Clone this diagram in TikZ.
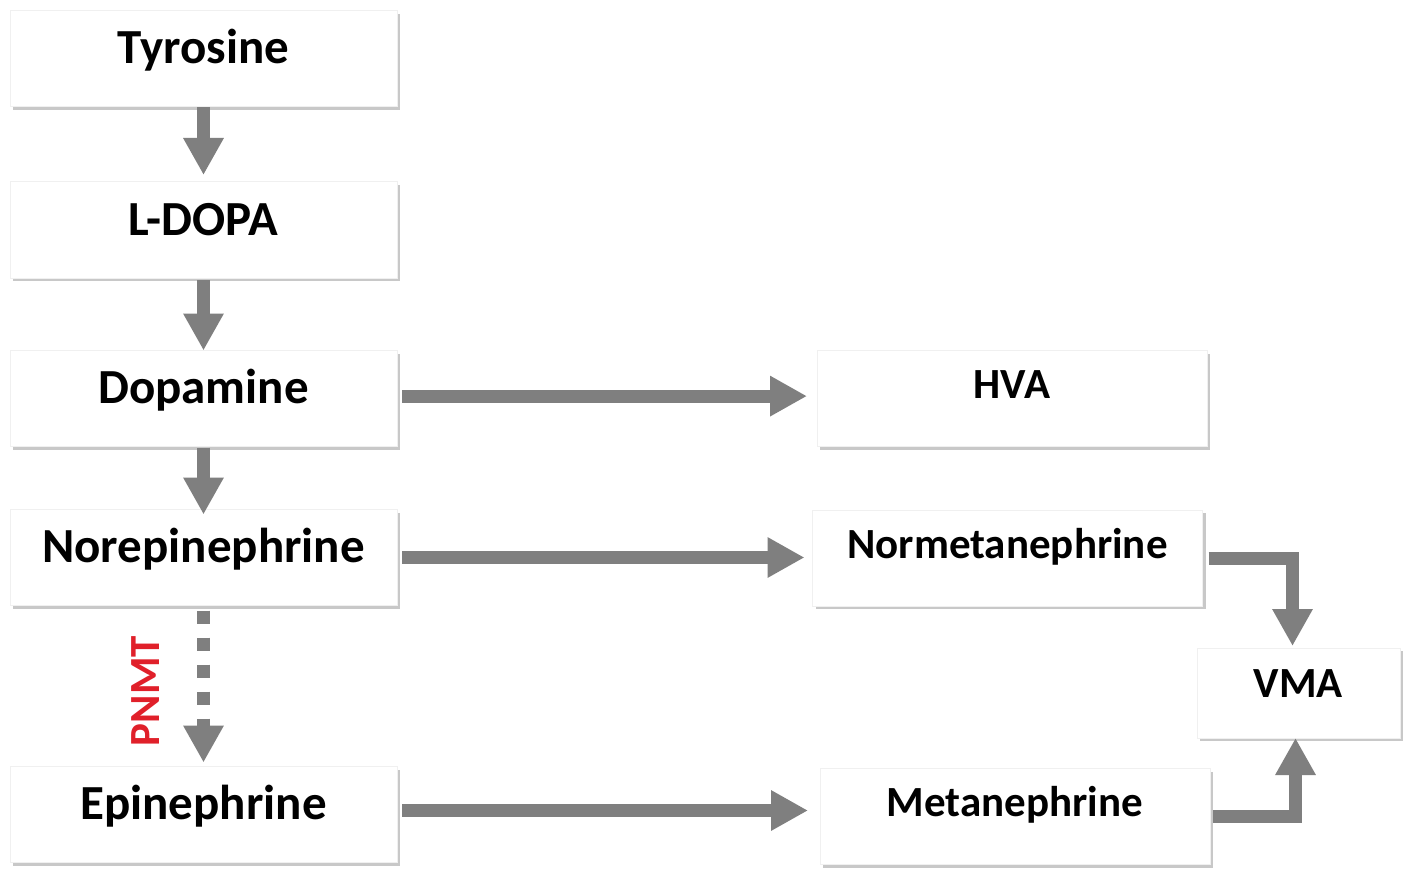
\documentclass[tikz,border=0pt]{standalone}
\usepackage{fontspec}
\setmainfont{Carlito}
\usetikzlibrary{arrows.meta,shadows}
\definecolor{arrgray}{HTML}{7F7F7F}
\definecolor{pnmtred}{HTML}{E0202A}
\tikzset{
  box/.style={rectangle, fill=white, draw=black!6, line width=0.5pt, inner sep=0pt, outer sep=0pt,
    drop shadow={shadow xshift=1.6pt, shadow yshift=-1.6pt, fill=black!30, opacity=0.7},
    font=\bfseries},
  leftbox/.style={box, minimum width=193.5pt, minimum height=48pt, text height=12pt, text depth=7pt, font=\fontsize{24.5}{28}\selectfont\bfseries},
  rightbox/.style={box, minimum width=195pt, minimum height=48pt, text height=10pt, text depth=10pt, font=\fontsize{21.5}{26}\selectfont\bfseries},
  vmabox/.style={box, minimum width=101.5pt, minimum height=45pt, text height=11pt, text depth=7pt, font=\fontsize{21.5}{26}\selectfont\bfseries},
  arr/.style={draw=arrgray, line width=6.5pt, -{Triangle[width=19pt,length=18.5pt]}, arrgray},
  dasharr/.style={arr, dash pattern=on 6.5pt off 7pt},
}
\begin{document}
\begin{tikzpicture}[x=0.5pt,y=-0.5pt]
\useasboundingbox (0,0) rectangle (1417,882);
\fill[white] (0,0) rectangle (1417,882);
% left column
\node[leftbox] (tyr)    at (203.5,58.5)  {Tyrosine};
\node[leftbox] (ldopa)  at (203.5,230)   {L-DOPA};
\node[leftbox] (dopa)   at (203.5,398.5) {Dopamine};
\node[leftbox] (norepi) at (203.5,557.5) {Norepinephrine};
\node[leftbox] (epi)    at (203.5,814.5) {Epinephrine};
% right column
\node[rightbox] (hva)    at (1012,398.5)  {HVA};
\node[rightbox] (normet) at (1007.5,558)  {Normetanephrine};
\node[rightbox] (metan)  at (1015,816.5)  {Metanephrine};
\node[vmabox]   (vma)    at (1298.5,693)  {VMA};
% PNMT label
\node[rotate=90, text=pnmtred, font=\fontsize{21.5}{26}\selectfont\bfseries] (pnmt) at (146,691) {PNMT};
% vertical arrows
\draw[arr, shorten <=0.5pt, shorten >=3.5pt] (tyr.south) -- (ldopa.north);
\draw[arr, shorten <=1pt, shorten >=0pt] (ldopa.south) -- (dopa.north);
\draw[arr, shorten <=0.5pt, shorten >=-2.5pt] (dopa.south) -- (norepi.north);
\draw[dasharr, shorten <=2.5pt, shorten >=2pt] (norepi.south) -- (epi.north);
% horizontal arrows
\draw[arr, shorten <=2.5pt, shorten >=5pt] ([yshift=1.2pt]dopa.east) -- ([yshift=1.2pt]dopa.east -| hva.west);
\draw[arr, shorten <=2.5pt, shorten >=4pt] (norepi.east) -- (norepi.east -| normet.west);
\draw[arr, shorten <=2.5pt, shorten >=6pt] ([yshift=2pt]epi.east) -- ([yshift=2pt]epi.east -| metan.west);
% to VMA
\draw[arr, shorten >=1pt] ([xshift=3pt]normet.east) -| ([xshift=-3pt]vma.north);
\draw[arr, shorten >=0pt] ([xshift=1.5pt]metan.east) -| ([xshift=-1.5pt]vma.south);
\end{tikzpicture}
\end{document}
